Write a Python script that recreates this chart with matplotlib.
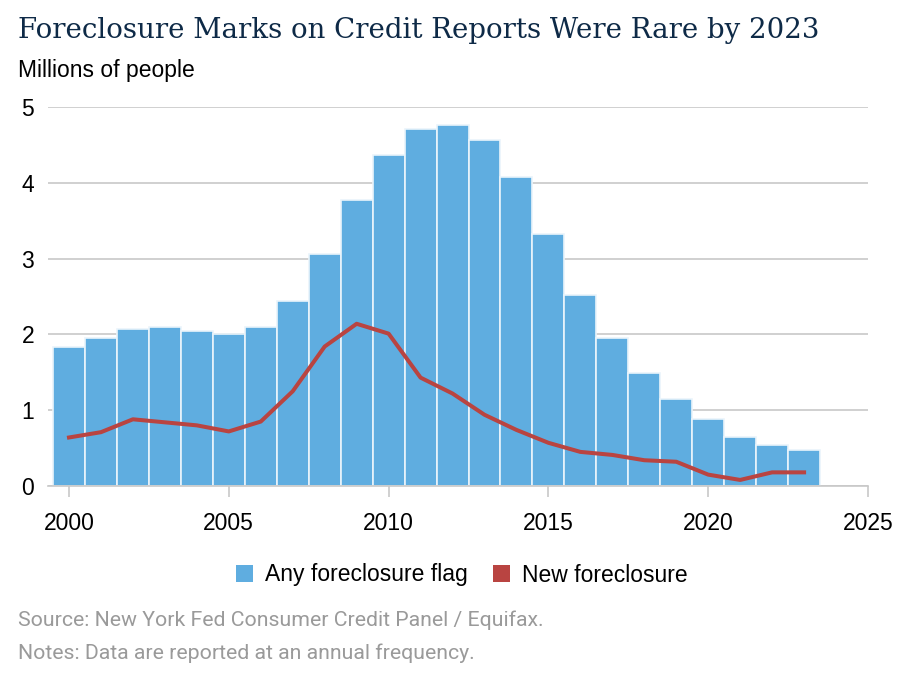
import matplotlib
matplotlib.use("Agg")
import matplotlib.pyplot as plt
from matplotlib.patches import Patch

years = list(range(2000, 2024))
any_flag = [1.84, 1.95, 2.07, 2.10, 2.04, 2.01, 2.10, 2.44, 3.06, 3.77, 4.37, 4.71,
            4.76, 4.56, 4.08, 3.33, 2.52, 1.95, 1.49, 1.15, 0.88, 0.64, 0.545, 0.48]
new_fc = [0.64, 0.71, 0.88, 0.84, 0.80, 0.72, 0.85, 1.25, 1.84, 2.14, 2.01, 1.43,
          1.22, 0.94, 0.74, 0.57, 0.45, 0.41, 0.34, 0.32, 0.15, 0.08, 0.18, 0.18]
xticks = [2000, 2005, 2010, 2015, 2020, 2025]
yticks = [0, 1, 2, 3, 4, 5]

W, H = 902, 676
fig = plt.figure(figsize=(W / 100, H / 100), dpi=100)
left, right, top, bottom = 48, 868, 107, 486
ax = fig.add_axes([left / W, 1 - bottom / H, (right - left) / W, (bottom - top) / H])

blue = "#5FADE0"
red = "#B94441"
ax.bar(years, any_flag, width=1.0, color=blue, edgecolor="#EAF4FB", linewidth=1.2, zorder=2)
ax.plot(years, new_fc, color=red, linewidth=2.9, zorder=3, solid_joinstyle="round")

ax.set_xlim(2000 - 21 / 31.96, 2025)
ax.set_ylim(0, 5)
ax.set_yticks(yticks)
ax.set_xticks(xticks)
ax.grid(axis="y", color="#C8C8C8", linewidth=1.2, zorder=0)
ax.set_axisbelow(True)
for s in ["top", "right", "left"]:
    ax.spines[s].set_visible(False)
ax.spines["bottom"].set_color("#C8C8C8")
ax.spines["bottom"].set_linewidth(1.2)
ax.tick_params(axis="y", length=0, pad=10, labelsize=16.5, labelcolor="black")
ax.tick_params(axis="x", length=8, width=1.2, color="#C8C8C8", pad=11, labelsize=16.5)
for lab in ax.get_xticklabels() + ax.get_yticklabels():
    lab.set_fontfamily("Liberation Sans")

fig.text(18 / W, 1 - 31 / H, "Foreclosure Marks on Credit Reports Were Rare by 2023",
         fontfamily="DejaVu Serif", fontsize=19.9, color="#0E2A47", va="center", ha="left")
fig.text(18 / W, 1 - 70 / H, "Millions of people", fontfamily="Liberation Sans",
         fontsize=16.5, color="black", va="center", ha="left")

handles = [Patch(facecolor=blue, edgecolor="none"), Patch(facecolor=red, edgecolor="none")]
leg = fig.legend(handles, ["Any foreclosure flag", "New foreclosure"], loc="center",
                 bbox_to_anchor=(462 / W, 1 - 575 / H), ncol=2, frameon=False,
                 prop={"family": "Liberation Sans", "size": 16.5}, handlelength=0.74,
                 handleheight=0.74, handletextpad=0.52, columnspacing=1.1)

fig.text(18 / W, 1 - 620 / H, "Source: New York Fed Consumer Credit Panel / Equifax.",
         fontfamily="Roboto", fontsize=15.3, color="#9A9A9A", va="center", ha="left")
fig.text(18 / W, 1 - 653 / H, "Notes: Data are reported at an annual frequency.",
         fontfamily="Roboto", fontsize=15.3, color="#9A9A9A", va="center", ha="left")

fig.savefig("out.png", dpi=100)
